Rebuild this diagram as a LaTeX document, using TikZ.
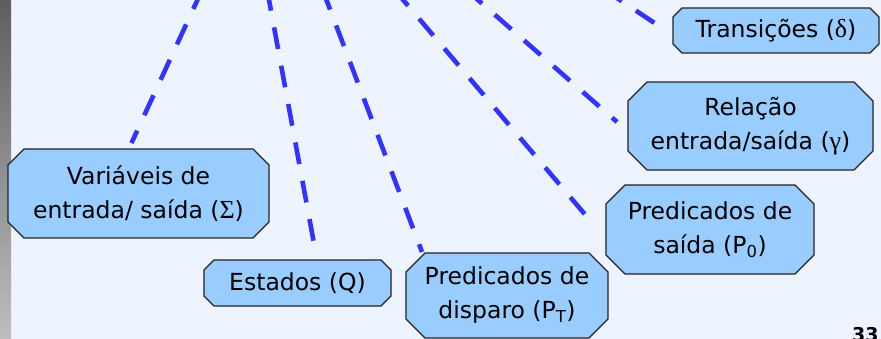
\documentclass[tikz,border=0pt]{standalone}
\usepackage{fontspec}
\setmainfont{DejaVu Sans}
\newfontfamily\greekfont{Liberation Serif}

\definecolor{slidebg}{RGB}{238,244,254}
\definecolor{boxblue}{RGB}{153,204,255}
\definecolor{boxline}{RGB}{35,35,35}
\definecolor{linkblue}{RGB}{51,51,255}

\newcommand{\gr}[1]{{\greekfont\fontsize{26}{34}\selectfont #1}}

\pgfdeclarelayer{slide}
\pgfdeclarelayer{boxes}
\pgfsetlayers{slide,boxes,main}

\tikzset{
  box/.style={rectangle, align=center, inner sep=0pt, outer sep=0pt},
  boxshape/.style={draw=boxline, line width=1.2pt, fill=boxblue, line join=miter},
  link/.style={draw=linkblue, line width=4.6pt, dash pattern=on 22pt off 17pt}
}

\begin{document}
\begin{tikzpicture}[x=1pt,y=1pt, every node/.style={font=\fontsize{23.5}{34}\selectfont}]
  \clip (0,0) rectangle (881,339);
  \begin{pgfonlayer}{slide}
    \fill[slidebg] (0,0) rectangle (881,339);
    \shade[top color={rgb,255:red,94;green,94;blue,94}, bottom color={rgb,255:red,190;green,190;blue,190}]
      (0,0) rectangle (11,339);
  \end{pgfonlayer}

  % the six parts
  \node[box, minimum width=261pt, minimum height=89pt] (sigma) at (138.5,145.5)
    {Variáveis de\\entrada/ saída (\gr{Σ})};
  \node[box, minimum width=187pt, minimum height=46pt] (estados) at (297.5,56) {Estados (Q)};
  \node[box, minimum width=202pt, minimum height=85pt] (disparo) at (507,43.5)
    {Predicados de\\disparo (P\textsubscript{T})};
  \node[box, minimum width=208pt, minimum height=89pt] (saida) at (710,109.5)
    {Predicados de\\saída (P\textsubscript{0})};
  \node[box, minimum width=245pt, minimum height=88pt] (relacao) at (750.5,213)
    {Relação\\entrada/saída (\gr{γ})};
  \node[box, minimum width=206pt, minimum height=45pt] (trans) at (776,308.5) {Transições (\gr{δ})};

  % cut corners behind the texts
  \begin{pgfonlayer}{boxes}
    \foreach \n/\c in {sigma/16, estados/10, disparo/19, saida/19, relacao/19, trans/9}
      \draw[boxshape] ([xshift=\c pt]\n.north west) -- ([xshift=-\c pt]\n.north east)
        -- ([yshift=-\c pt]\n.north east) -- ([yshift=\c pt]\n.south east)
        -- ([xshift=-\c pt]\n.south east) -- ([xshift=\c pt]\n.south west)
        -- ([yshift=\c pt]\n.south west) -- ([yshift=-\c pt]\n.north west) -- cycle;
  \end{pgfonlayer}

  % dashed links, coming from above the frame
  \coordinate (top1) at (202.5,350);
  \coordinate (top2) at (267,350);
  \coordinate (top3) at (322.3,350);
  \coordinate (top4) at (393.9,350);
  \coordinate (top5) at (465.5,350);
  \coordinate (top6) at (603.5,350);
  \draw[link] (top1) -- ([xshift=-7pt,yshift=6pt]sigma.north);
  \draw[link] (top2) -- ([xshift=17.5pt,yshift=11pt]estados.north);
  \draw[link] (top3) -- ([xshift=-85pt,yshift=1pt]disparo.north);
  \draw[link] (top4) -- ([xshift=-18pt,yshift=11.5pt]saida.west);
  \draw[link] (top5) -- ([xshift=-11pt,yshift=4pt]relacao.west);
  \draw[link] (top6) -- ([xshift=-5pt,yshift=-1.5pt]trans.west);

  \node[font=\bfseries\fontsize{19}{19}\selectfont, anchor=base west, inner sep=0pt] (pagenum) at (852,-3) {33};
\end{tikzpicture}
\end{document}
